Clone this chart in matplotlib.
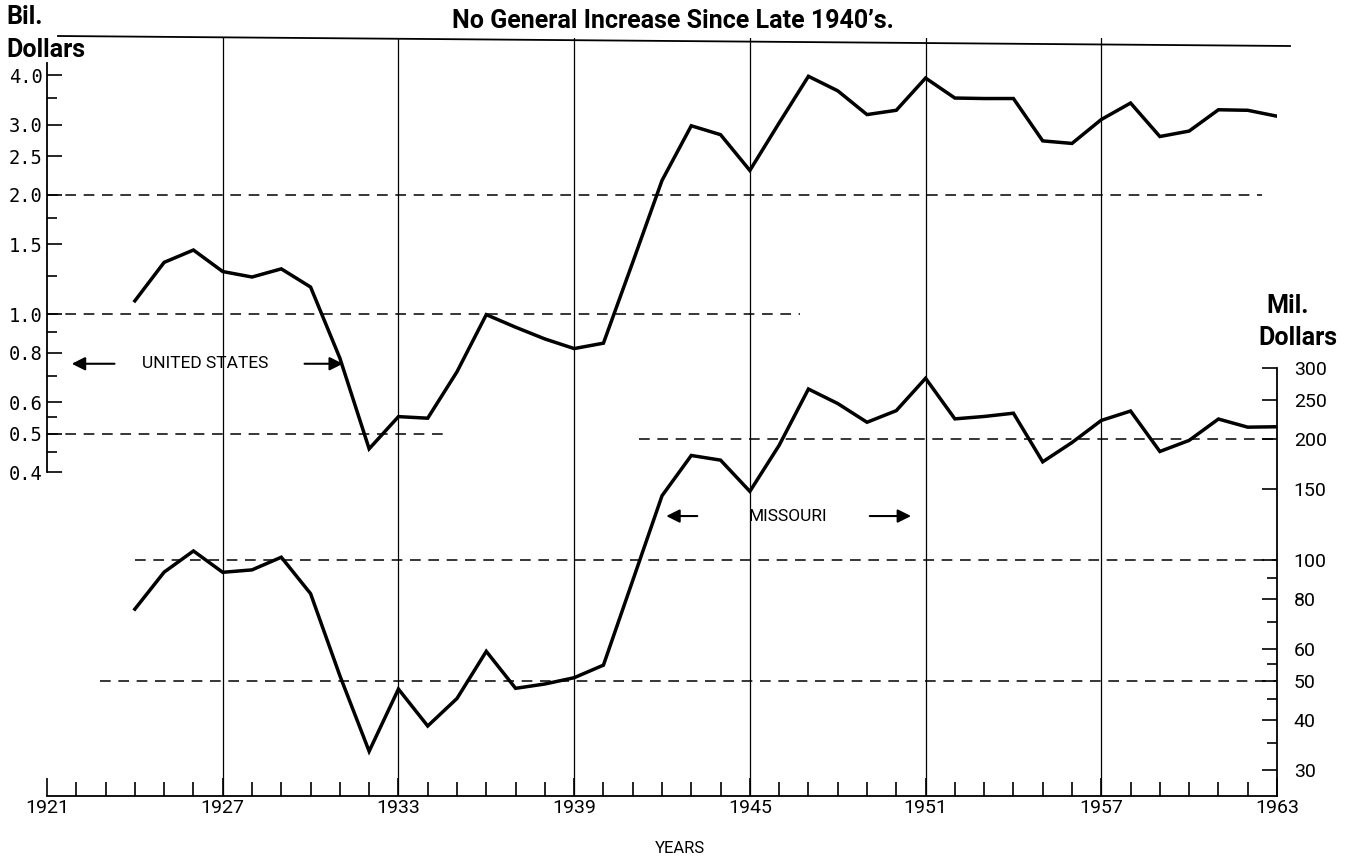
import matplotlib
matplotlib.use('Agg')
import matplotlib.pyplot as plt
from matplotlib.ticker import FixedLocator, NullFormatter, FixedFormatter
from matplotlib.lines import Line2D

plt.rcParams['font.family'] = ['Roboto', 'DejaVu Sans']

years = list(range(1924, 1964))
us_billions = [1.08, 1.35, 1.45, 1.28, 1.24, 1.30, 1.17, 0.775, 0.458, 0.552,
               0.547, 0.716, 0.997, 0.927, 0.866, 0.819, 0.845, 1.35, 2.17, 2.98,
               2.83, 2.30, 3.03, 3.97, 3.65, 3.18, 3.26, 3.93, 3.50, 3.49,
               3.49, 2.73, 2.69, 3.09, 3.40, 2.80, 2.89, 3.27, 3.26, 3.15]
mo_millions = [75.4, 93.2, 105.2, 93.1, 94.4, 101.5, 82.4, 51.5, 33.4, 47.7,
               38.6, 45.2, 59.2, 47.9, 49.1, 50.9, 54.7, 88.8, 144.3, 181.8,
               177.0, 148.0, 192.7, 266.0, 244.8, 219.9, 235.0, 282.9, 224.2, 227.3,
               231.6, 175.3, 195.8, 222.2, 234.5, 186.0, 198.2, 224.0, 213.8, 214.3]

x_major = [1921, 1927, 1933, 1939, 1945, 1951, 1957, 1963]
us_major = [0.4, 0.5, 0.6, 0.8, 1.0, 1.5, 2.0, 2.5, 3.0, 4.0]
us_major_labels = ['0.4', '0.5', '0.6', '0.8', '1.0', '1.5',
                   '2.0', '2.5', '3.0', '4.0']
us_minor = [0.45, 0.55, 0.7, 0.9, 1.25, 1.75, 3.5]
mo_major = [30, 40, 50, 60, 80, 100, 150, 200, 250, 300]
mo_minor = [35, 45, 55, 70, 90]
us_ref = [(2.0, 1921, 1962.5), (1.0, 1921, 1946.7), (0.5, 1921, 1934.7)]
mo_ref = [(200, 1941.2, 1963), (100, 1924.0, 1963), (50, 1922.8, 1963)]

W, H = 1349, 863
fig = plt.figure(figsize=(W / 100, H / 100), dpi=100)
L, R, T, B = 47, 1277, 38, 796
ax = fig.add_axes([L / W, (H - B) / H, (R - L) / W, (B - T) / H])
ax2 = ax.twinx()

ax.set_xlim(1921, 1963)
ax.set_yscale('log')
ax.set_ylim(0.0612, 4.957)
ax2.set_yscale('log')
ax2.set_ylim(25.85, 1986.7)

# vertical guide lines
for xv in x_major[1:-1]:
    ax.axvline(xv, color='black', lw=0.9, zorder=1)

# dashed reference lines
for val, x0, x1 in us_ref:
    ax.plot([x0, x1], [val, val], color='black', lw=1.1, ls=(0, (7, 5)), zorder=1)
for val, x0, x1 in mo_ref:
    ax2.plot([x0, x1], [val, val], color='black', lw=1.1, ls=(0, (7, 5)), zorder=1)

ax.plot(years, us_billions, color='black', lw=2.5, solid_joinstyle='miter', zorder=3)
ax2.plot(years, mo_millions, color='black', lw=2.5, solid_joinstyle='miter', zorder=3)

# spines
for a in (ax, ax2):
    a.spines['top'].set_visible(False)
ax.spines['right'].set_visible(False)
ax2.spines['left'].set_visible(False)
ax2.spines['bottom'].set_visible(False)
ax.spines['left'].set_bounds(0.4, 4.3)
ax2.spines['right'].set_bounds(25.85, 300)
for s in ('left', 'bottom'):
    ax.spines[s].set_linewidth(1.3)
ax2.spines['right'].set_linewidth(1.3)

# x ticks
ax.set_xticks(x_major)
ax.set_xticklabels([str(v) for v in x_major])
ax.set_xticks(list(range(1921, 1964)), minor=True)
ax.tick_params(axis='x', which='major', direction='in', length=13, width=1.2,
               labelsize=14, pad=2)
ax.tick_params(axis='x', which='minor', direction='in', length=10, width=1.2)

# left y ticks
ax.yaxis.set_major_locator(FixedLocator(us_major))
ax.yaxis.set_major_formatter(FixedFormatter(us_major_labels))
ax.yaxis.set_minor_locator(FixedLocator(us_minor))
ax.yaxis.set_minor_formatter(NullFormatter())
ax.tick_params(axis='y', which='major', direction='in', length=11, width=1.2,
               labelsize=14, pad=3)
ax.tick_params(axis='y', which='minor', direction='in', length=7, width=1.2)
for lab in ax.get_yticklabels():
    lab.set_fontfamily(['DejaVu Sans Mono', 'DejaVu Sans'])
    lab.set_fontsize(13.5)

# right y ticks
ax2.yaxis.set_major_locator(FixedLocator(mo_major))
ax2.yaxis.set_major_formatter(FixedFormatter([str(v) for v in mo_major]))
ax2.yaxis.set_minor_locator(FixedLocator(mo_minor))
ax2.yaxis.set_minor_formatter(NullFormatter())
ax2.tick_params(axis='y', which='major', direction='in', length=11, width=1.2,
                labelsize=14, pad=12)
ax2.tick_params(axis='y', which='minor', direction='in', length=7, width=1.2)

# top rule
fig.add_artist(Line2D([58 / W, 1290 / W], [(H - 36) / H, (H - 46) / H],
                      color='black', lw=1.3))

# texts
fig.text(673 / W, (H - 21) / H, "No General Increase Since Late 1940\u2019s.",
         ha='center', va='center', fontsize=18, fontweight='bold')
fig.text(6 / W, (H - 17) / H, 'Bil.', ha='left', va='center',
         fontsize=18, fontweight='bold')
fig.text(6 / W, (H - 50) / H, 'Dollars', ha='left', va='center',
         fontsize=18, fontweight='bold')
fig.text(1266 / W, (H - 306) / H, 'Mil.', ha='left', va='center',
         fontsize=18, fontweight='bold')
fig.text(1258 / W, (H - 338) / H, 'Dollars', ha='left', va='center',
         fontsize=18, fontweight='bold')
fig.text(680 / W, (H - 848) / H, 'YEARS', ha='center', va='center', fontsize=12)

# series labels with arrows
ax.text(1926.4, 0.75, 'UNITED STATES', ha='center', va='center', fontsize=12.5)
ap = dict(arrowstyle='-|>', lw=1.5, color='black', mutation_scale=20)
ax.annotate('', xy=(1921.75, 0.75), xytext=(1923.4, 0.75), arrowprops=ap)
ax.annotate('', xy=(1931.2, 0.75), xytext=(1929.7, 0.75), arrowprops=ap)
ax2.text(1946.3, 128.5, 'MISSOURI', ha='center', va='center', fontsize=12.5)
ax2.annotate('', xy=(1942.05, 128.5), xytext=(1943.3, 128.5), arrowprops=ap)
ax2.annotate('', xy=(1950.6, 128.5), xytext=(1949.0, 128.5), arrowprops=ap)

fig.savefig('out.png', dpi=100)
